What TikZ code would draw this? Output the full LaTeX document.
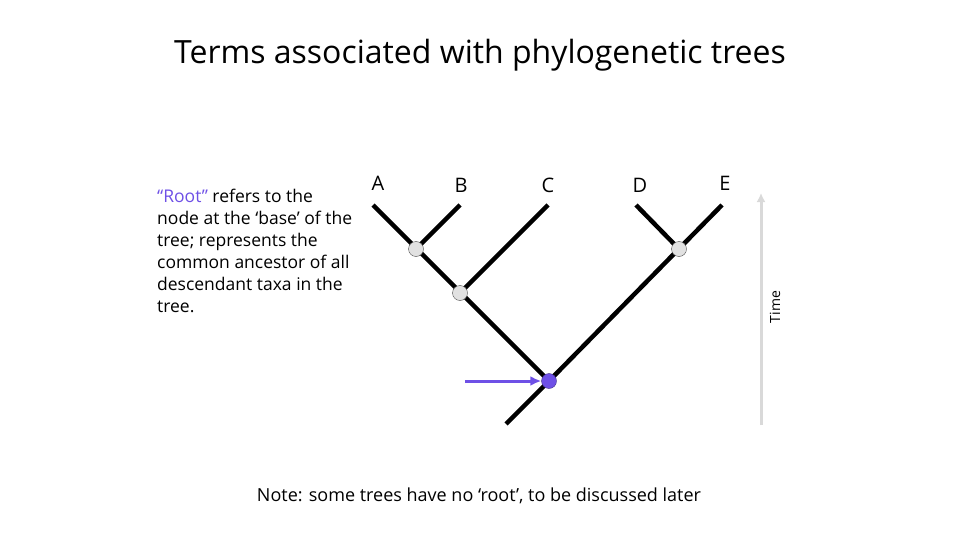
\documentclass[tikz,border=0pt]{standalone}
\usepackage{fontspec}
\usetikzlibrary{arrows.meta}
\setmainfont{Open Sans}
\definecolor{rootblue}{RGB}{110,80,230}
\definecolor{ngray}{RGB}{225,225,225}
\begin{document}
\begin{tikzpicture}[x=1pt, y=-1pt]
\tikzset{branch/.style={line width=4.5pt},
  inode/.style={circle, draw=gray!60!black, fill=ngray, minimum size=15pt, inner sep=0pt},
  taxon/.style={font=\fontsize{20}{22}\selectfont}}
\useasboundingbox (0, 0) rectangle (960, 540);
\node at (480, 55) {\fontsize{32}{34}\selectfont Terms associated with phylogenetic trees};
%Tree
\coordinate (a) at (373, 205);
\coordinate (b) at (460, 205);
\coordinate (c) at (548, 205);
\coordinate (d) at (636, 205);
\coordinate (e) at (722, 205);
\coordinate (base) at (506, 424);
\coordinate (rt) at (549, 381);
\coordinate (n1) at (416, 249);
\coordinate (n2) at (460, 293);
\coordinate (n3) at (679, 249);
\draw [branch] (base) -- (rt) -- (a);
\draw [branch] (rt) -- (e);
\draw [branch] (n1) -- (b);
\draw [branch] (n2) -- (c);
\draw [branch] (n3) -- (d);
\node [inode] at (n1) {};
\node [inode] at (n2) {};
\node [inode] at (n3) {};
\node [inode, fill=rootblue, draw=rootblue!60!black] (root) at (rt) {};
%Text
\node [taxon] at (378, 183) {A};
\node [taxon] at (461, 185) {B};
\node [taxon] at (548, 185) {C};
\node [taxon] at (640, 185) {D};
\node [taxon] at (725, 183) {E};
\node [anchor=north west, align=left, inner sep=0pt, font=\fontsize{17.5}{22}\selectfont] at (157, 189)
  {\textcolor{rootblue}{“Root”} refers to the\\ node at the ‘base’ of the\\ tree; represents the\\ common ancestor of all\\ descendant taxa in the\\ tree.};
\coordinate (arr) at (465, 381);
\draw [rootblue, line width=3pt, -{Latex[length=11pt,width=10pt]}] (arr) -- (root);
\draw [gray!30, line width=3pt, -{Latex[length=9pt,width=9pt]}] (761, 425) -- (761, 193);
\node [rotate=90, font=\fontsize{14}{16}\selectfont] at (775, 307) {Time};
\node [font=\fontsize{18}{20}\selectfont] at (479, 496) {Note: some trees have no ‘root’, to be discussed later};
\end{tikzpicture}
\end{document}
